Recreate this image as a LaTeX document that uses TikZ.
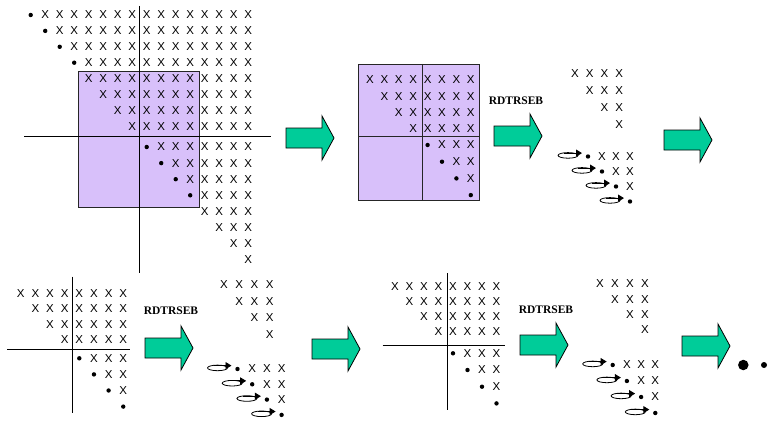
\documentclass[tikz,border=0pt]{standalone}
\usepackage{fontspec}
\setmainfont{Liberation Sans}
\newfontfamily\lblfont{Liberation Serif}
\usetikzlibrary{arrows.meta}
\definecolor{lav}{RGB}{216,192,250}
\definecolor{arrgreen}{RGB}{0,204,153}
\tikzset{
  xm/.style={font=\fontsize{11.5}{11.5}\selectfont, inner sep=0pt, anchor=center},
  dotm/.style={circle, fill=black, inner sep=0pt, minimum size=4.4pt},
  axisline/.style={draw=black, line width=1pt},
  blk/.style={draw=black!85, line width=0.9pt, fill=lav},
  bigarrow/.style={draw=black, line width=0.8pt, fill=arrgreen},
  lbl/.style={font=\lblfont\bfseries\fontsize{11.5}{11.5}\selectfont, inner sep=0pt},
  barrow/.pic={\path[bigarrow] (0,-10) -- (36,-10) -- (36,-22) -- (48,0) -- (36,22) -- (36,10) -- (0,10) -- cycle;},
  loopar/.pic={\draw[line width=0.8pt, fill=white] (10,0.9) ellipse [x radius=10, y radius=2.8];
               \draw[line width=0.9pt, -{Triangle[length=6pt,width=7pt]}] (6,-1.4) -- (24,-1.4);}
}
% 8x8 matrix: #1 prefix, #2 x0, #3 dx, #4 yA, #5 dyA, #6 yB, #7 dyB
\newcommand\eightmat[7]{%
  \foreach \r in {1,...,8}{%
    \pgfmathsetmacro\yy{\r<5 ? #4+(\r-1)*#5 : #6+(\r-5)*#7}%
    \ifnum\r<5
      \pgfmathtruncatemacro\st{\r}%
    \else
      \node[dotm] (#1-\r-\r) at ({#2+(\r-1)*#3},\yy) {};%
      \pgfmathtruncatemacro\st{\r+1}%
    \fi
    \ifnum\st<9
      \foreach \c in {\st,...,8}{\node[xm] (#1-\r-\c) at ({#2+(\c-1)*#3},\yy) {X};}%
    \fi
  }%
}
% triangle group: #1 prefix, upper #2 x0 #3 dx #4 y0 #5 dy, lower #6 x0 #7 dx #8 y0 #9 dy
\newcommand\trigroup[9]{%
  \foreach \r in {1,...,4}{%
    \pgfmathsetmacro\yy{#4+(\r-1)*#5}%
    \foreach \c in {\r,...,4}{\node[xm] (#1u-\r-\c) at ({#2+(\c-1)*#3},\yy) {X};}%
    \pgfmathsetmacro\ly{#8+(\r-1)*#9}%
    \pgfmathsetmacro\dx{#6+(\r-1)*#7}%
    \node[dotm] (#1l-\r-\r) at (\dx,\ly) {};%
    \pic at ({\dx-30},{\ly-2}) {loopar};%
    \ifnum\r<4
      \pgfmathtruncatemacro\st{\r+1}%
      \foreach \c in {\st,...,4}{\node[xm] (#1l-\r-\c) at ({#6+(\c-1)*#7},\ly) {X};}%
    \fi
  }%
}
\begin{document}
\begin{tikzpicture}[x=1pt,y=-1pt]
\useasboundingbox (0,0) rectangle (778,425);
\fill[white] (0,0) rectangle (778,425);

% ---------- big 16x16 matrix ----------
\path[blk] (78.3,71) rectangle (199,207.3);
\foreach \r in {1,...,16}{%
  \pgfmathsetmacro\yy{\r<9 ? 15+(\r-1)*15.9 : 147+(\r-9)*16.1}%
  \pgfmathtruncatemacro\hasdot{mod(\r-1,8)<4 ? 1 : 0}%
  \ifnum\hasdot=1
    \node[dotm] (a-\r-\r) at ({30.7+(\r-1)*14.5},\yy) {};%
    \pgfmathtruncatemacro\st{\r+1}%
  \else
    \pgfmathtruncatemacro\st{\r}%
  \fi
  \foreach \c in {\st,...,16}{\node[xm] (a-\r-\c) at ({30.7+(\c-1)*14.5},\yy) {X};}%
}
\draw[axisline] (24,136) -- (271,136);
\draw[axisline] (139.3,6) -- (139.3,273);

% ---------- second matrix ----------
\path[blk] (358.3,64) rectangle (479,200.7);
\draw[draw=black!85, line width=0.9pt] (422.7,64) -- (422.7,200.7);
\draw[draw=black!85, line width=0.9pt] (358.3,136) -- (479,136);
\eightmat{b}{370}{14.4}{80}{16.1}{145}{16.7}

% ---------- triangle groups ----------
\trigroup{c}{575}{14.7}{74}{16.7}{588}{14}{156.5}{15}
\trigroup{e}{224}{15.2}{285}{16.5}{237.5}{14.7}{369}{15.3}
\trigroup{g}{600}{15}{284}{15.3}{612.7}{14.2}{365}{16}

% ---------- bottom matrices ----------
\eightmat{d}{20.7}{14.65}{293.3}{15.5}{358.3}{16.1}
\draw[axisline] (7.3,349.3) -- (130,349.3);
\draw[axisline] (72.3,276.7) -- (72.3,413.3);
\eightmat{f}{395}{14.5}{286.7}{15}{353.3}{16.7}
\draw[axisline] (382.7,345) -- (505,345);
\draw[axisline] (447.7,273) -- (447.7,410);

% ---------- big arrows ----------
\pic at (286,138) {barrow};
\pic at (494,136) {barrow};
\pic at (664,140) {barrow};
\pic at (145,348) {barrow};
\pic at (312,349) {barrow};
\pic at (520,345) {barrow};
\pic at (682,346) {barrow};

% ---------- labels ----------
\node[lbl] (l1) at (516,101) {RDTRSEB};
\node[lbl] (l2) at (171,311) {RDTRSEB};
\node[lbl] (l3) at (546,310) {RDTRSEB};

% ---------- final dots ----------
\node[circle, fill=black, inner sep=0pt, minimum size=10.5pt] (fin1) at (743.3,365) {};
\node[circle, fill=black, inner sep=0pt, minimum size=6pt] (fin2) at (764,365) {};
\end{tikzpicture}
\end{document}
